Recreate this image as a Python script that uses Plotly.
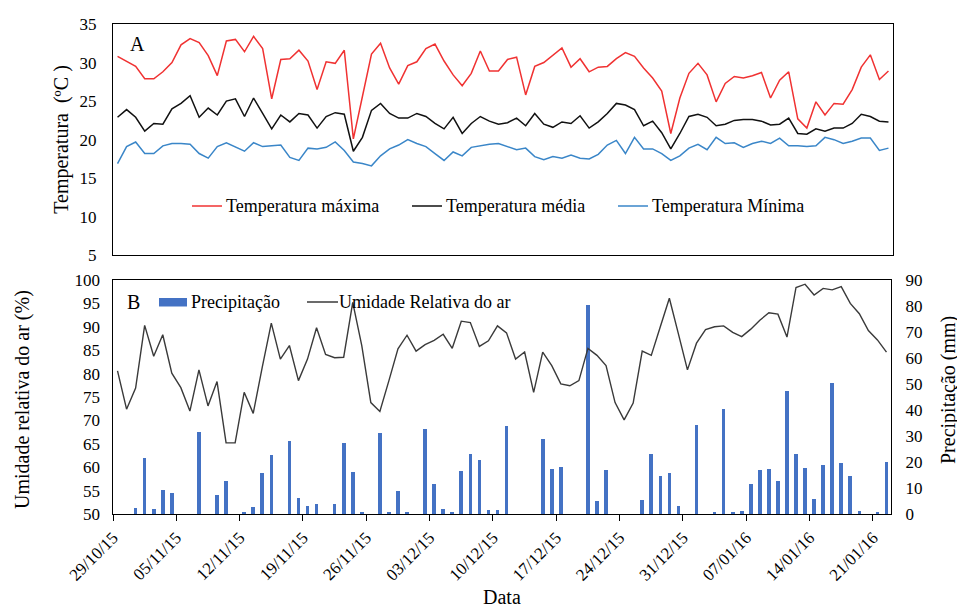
import plotly.graph_objects as go
import pandas as pd

# ---------------- data ----------------
dates = pd.date_range("2015-10-29", periods=86, freq="D")
tick_labels = ["29/10/15", "05/11/15", "12/11/15", "19/11/15", "26/11/15", "03/12/15",
               "10/12/15", "17/12/15", "24/12/15", "31/12/15", "07/01/16", "14/01/16", "21/01/16"]

t_max = [30.8, 30.2, 29.5, 27.9, 27.9, 28.8, 30.0, 32.3, 33.1, 32.6, 30.9, 28.3, 32.8, 33.0, 31.4, 33.4,
         31.8, 25.3, 30.4, 30.5, 31.6, 30.2, 26.5, 30.1, 29.9, 31.6, 20.1, 25.6, 31.1, 32.5, 29.3, 27.2,
         29.6, 30.1, 31.8, 32.4, 30.2, 28.4, 27.0, 28.6, 31.5, 28.9, 28.9, 30.4, 30.7, 25.8, 29.5, 30.0,
         31.0, 31.9, 29.4, 30.5, 28.8, 29.4, 29.5, 30.5, 31.3, 30.8, 29.3, 28.0, 26.3, 20.8, 25.4, 28.6,
         29.9, 28.4, 24.9, 27.3, 28.2, 28.0, 28.3, 28.7, 25.4, 27.7, 28.8, 22.7, 21.5, 24.9, 23.2, 24.7,
         24.6, 26.5, 29.4, 31.0, 27.8, 28.9]
t_med = [22.9, 23.9, 22.9, 21.1, 22.1, 22.0, 24.0, 24.7, 25.7, 22.9, 24.1, 23.2, 25.0, 25.3, 23.0, 25.4,
         23.4, 21.4, 23.2, 22.3, 23.4, 23.2, 21.5, 23.0, 23.5, 23.3, 18.5, 20.3, 23.8, 24.7, 23.4, 22.8,
         22.8, 23.4, 23.0, 22.1, 21.4, 22.9, 20.8, 22.1, 23.0, 22.4, 22.0, 22.2, 22.8, 21.8, 23.4, 22.0,
         21.6, 22.3, 22.1, 23.1, 21.5, 22.3, 23.4, 24.7, 24.5, 23.9, 21.8, 22.4, 20.9, 18.8, 20.8, 23.0,
         23.3, 22.9, 21.8, 22.0, 22.5, 22.6, 22.6, 22.4, 21.9, 22.0, 22.8, 20.8, 20.7, 21.4, 21.1, 21.5,
         21.5, 22.1, 23.3, 23.0, 22.4, 22.3]
t_min = [16.9, 19.1, 19.7, 18.2, 18.2, 19.2, 19.5, 19.5, 19.4, 18.2, 17.6, 19.1, 19.6, 19.1, 18.5, 19.6,
         19.1, 19.2, 19.3, 17.7, 17.3, 18.9, 18.8, 19.0, 19.7, 18.6, 17.1, 16.9, 16.6, 17.9, 18.8, 19.3,
         20.0, 19.5, 19.1, 18.2, 17.3, 18.4, 17.9, 19.0, 19.2, 19.4, 19.5, 19.1, 18.7, 18.9, 17.8, 17.4,
         17.8, 17.6, 18.0, 17.6, 17.5, 18.1, 19.3, 19.9, 18.2, 20.3, 18.8, 18.8, 18.2, 17.3, 17.9, 18.9,
         19.4, 18.7, 20.3, 19.5, 19.6, 19.0, 19.5, 19.8, 19.5, 20.2, 19.2, 19.2, 19.1, 19.2, 20.3, 20.0,
         19.5, 19.8, 20.2, 20.2, 18.6, 18.9]
umidade = [80.6, 72.4, 76.9, 90.3, 83.7, 88.3, 80.1, 77.0, 72.0, 80.8, 73.1, 78.3, 65.2, 65.2, 76.0, 71.5,
           81.4, 90.8, 83.1, 86.0, 78.5, 83.1, 89.8, 84.1, 83.4, 83.5, 95.2, 86.0, 73.8, 71.9, 78.5, 85.3,
           88.2, 84.8, 86.2, 87.1, 88.4, 85.4, 91.2, 90.9, 85.8, 87.0, 90.2, 88.7, 83.1, 84.6, 76.0, 84.6,
           81.7, 77.8, 77.4, 78.5, 85.4, 83.9, 81.7, 73.8, 70.1, 73.7, 84.8, 83.9, 90.0, 96.1, 88.5, 80.8,
           86.5, 89.4, 90.0, 90.2, 88.8, 87.9, 89.5, 91.4, 93.0, 92.7, 87.8, 98.4, 99.1, 96.8, 98.2, 97.9,
           98.6, 95.0, 92.8, 89.2, 87.2, 84.6]
precipitacao = [0, 0, 2.4, 21.5, 2.0, 9.4, 8.1, 0, 0, 31.4, 0, 7.5, 12.8, 0, 0.5, 2.7,
                15.6, 22.7, 0, 28.0, 6.0, 3.2, 3.9, 0, 3.9, 27.5, 16.0, 0.5, 0, 31.1, 0.5, 8.9,
                0.5, 0, 32.8, 11.7, 2.0, 0.5, 16.4, 23.2, 20.6, 1.5, 1.5, 33.7, 0, 0, 0, 28.8,
                17.5, 18.1, 0, 0, 80.3, 4.9, 16.8, 0, 0, 0, 5.2, 23.0, 14.5, 15.6, 3.2, 0,
                34.2, 0, 0.5, 40.3, 0.5, 1.2, 11.4, 16.9, 17.4, 12.8, 47.3, 23.2, 17.8, 5.7, 18.7, 50.4,
                19.8, 14.5, 1.2, 0, 0.7, 20.0]

# ---------------- style ----------------
FONT = "Liberation Serif"
RED, BLACK, BLUE, GRAY, BAR = "#F03232", "#111111", "#3A86C8", "#3A3A3A", "#4472C4"
OFF = 8                       # page body margin offset of the figure in the window
W, H = 965 - OFF, 608 - OFF
ML, MR, MT, MB = 113 - OFF, 72, 24 - OFF, 94
PW, PH = W - ML - MR, H - MT - MB

# helpers: screen-pixel position -> paper fraction
def px(x):
    return (x - (ML + OFF)) / PW

def py(y):
    return ((H + OFF - MB) - y) / PH

half = pd.Timedelta(hours=12)
xrange_ = [dates[0] - half, dates[-1] + half]
tickvals = [dates[i] - half for i in range(0, 85, 7)]

fig = go.Figure()
fig.add_trace(go.Scatter(x=dates, y=t_max, mode="lines", line=dict(color=RED, width=1.5),
                         xaxis="x", yaxis="y", showlegend=False))
fig.add_trace(go.Scatter(x=dates, y=t_med, mode="lines", line=dict(color=BLACK, width=1.5),
                         xaxis="x", yaxis="y", showlegend=False))
fig.add_trace(go.Scatter(x=dates, y=t_min, mode="lines", line=dict(color=BLUE, width=1.5),
                         xaxis="x", yaxis="y", showlegend=False))
fig.add_trace(go.Bar(x=dates, y=precipitacao, marker=dict(color=BAR, line=dict(width=0)),
                     width=0.4 * 86400000, xaxis="x2", yaxis="y2", showlegend=False))
fig.add_trace(go.Scatter(x=dates, y=umidade, mode="lines", line=dict(color=GRAY, width=1.4),
                         xaxis="x2", yaxis="y3", showlegend=False))

tickfont = dict(family=FONT, size=17, color="black")
axline = dict(showline=True, linecolor="black", linewidth=1, showgrid=False, zeroline=False)

fig.update_layout(
    width=W, height=H,
    margin=dict(l=ML, r=MR, t=MT, b=MB, autoexpand=False),
    paper_bgcolor="white", plot_bgcolor="white",
    font=dict(family=FONT, color="black"),
    bargap=0,
    xaxis=dict(domain=[0, 1], anchor="y", range=xrange_, type="date", showticklabels=False,
               ticks="", mirror=True, **axline),
    yaxis=dict(domain=[py(255.3), 1], anchor="x", range=[5, 35], dtick=5, ticks="",
               tickfont=tickfont, ticklabelstandoff=12, mirror=True, **axline),
    xaxis2=dict(domain=[0, px(891)], anchor="y2", range=xrange_, type="date",
                tickmode="array", tickvals=tickvals, ticktext=tick_labels, tickangle=-45,
                ticks="outside", ticklen=6, tickcolor="black", tickfont=tickfont,
                mirror=True, **axline),
    yaxis2=dict(domain=[0, py(280)], anchor="x2", side="right", range=[0, 90], dtick=10,
                ticks="", tickfont=tickfont, ticklabelstandoff=10, mirror=True, **axline),
    yaxis3=dict(overlaying="y2", anchor="x2", side="left", range=[50, 100], dtick=5,
                ticks="", tickfont=tickfont, ticklabelstandoff=12, showgrid=False,
                zeroline=False, showline=False),
)

ann_font = dict(family=FONT, size=20, color="black")
leg_font = dict(family=FONT, size=18, color="black")
annotations = [
    dict(x=px(62), y=py(139.8), text="Temperatura  (ºC )", textangle=-90, font=ann_font),
    dict(x=px(22), y=py(400), text="Umidade relativa do ar (%)", textangle=-90, font=ann_font),
    dict(x=px(948), y=py(390), text="Precipitação (mm)", textangle=-90, font=ann_font),
    dict(x=px(502), y=py(597), text="Data", font=ann_font),
    dict(x=px(137), y=py(44.5), text="A", font=ann_font),
    dict(x=px(133), y=py(302), text="B", font=ann_font),
]
shapes = []

def legend_line(x0, x1, y, color, label, tx):
    shapes.append(dict(type="line", xref="paper", yref="paper", x0=px(x0), x1=px(x1),
                       y0=py(y), y1=py(y), line=dict(color=color, width=1.5)))
    annotations.append(dict(x=px(tx), y=py(y), text=label, xanchor="left", font=leg_font))

legend_line(192, 222, 206, RED, "Temperatura máxima", 224)
legend_line(412, 442, 206, BLACK, "Temperatura média", 444)
legend_line(618, 648, 206, BLUE, "Temperatura Mínima", 650)
shapes.append(dict(type="rect", xref="paper", yref="paper", x0=px(159), x1=px(187),
                   y0=py(306.5), y1=py(298), fillcolor=BAR, line=dict(width=0)))
annotations.append(dict(x=px(189), y=py(302), text="Precipitação", xanchor="left", font=leg_font))
legend_line(307, 338, 302, GRAY, "Umidade Relativa do ar", 337)

for a in annotations:
    a.setdefault("xref", "paper")
    a.setdefault("yref", "paper")
    a.setdefault("showarrow", False)
    a.setdefault("xanchor", "center")
    a.setdefault("yanchor", "middle")

fig.update_layout(annotations=annotations, shapes=shapes)
fig.write_html("out.html")
